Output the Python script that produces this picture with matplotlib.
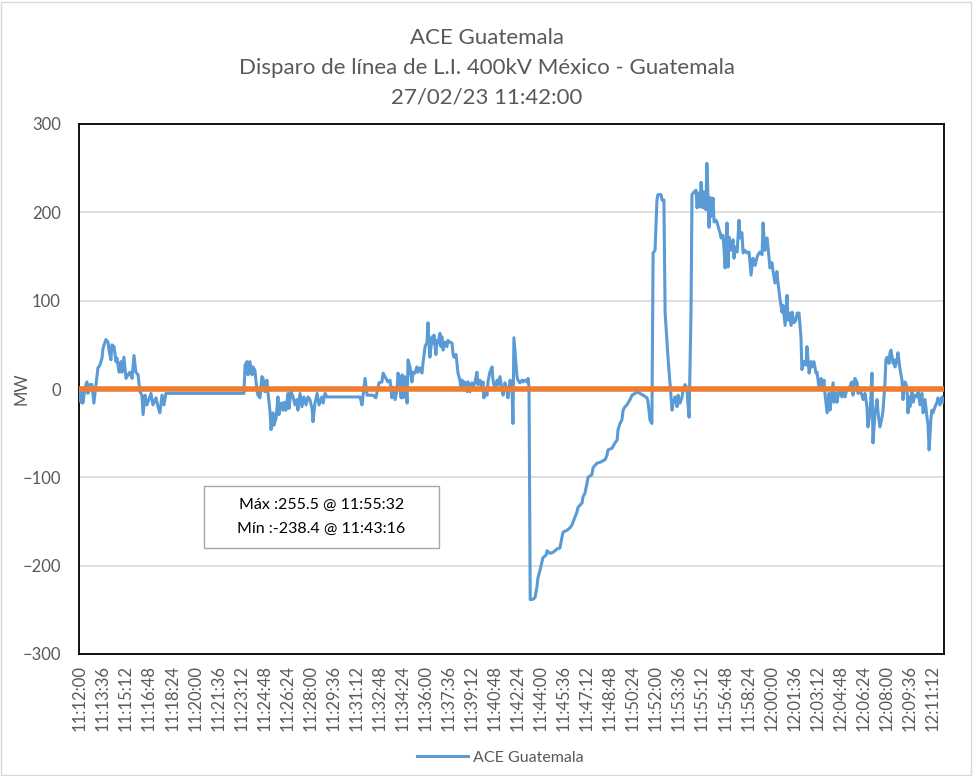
import matplotlib
matplotlib.use("Agg")
import matplotlib.pyplot as plt
from matplotlib.patches import Rectangle
import datetime as dt

# ---------------- data ----------------
title_lines = ["ACE Guatemala",
               "Disparo de línea de L.I. 400kV México - Guatemala",
               "27/02/23 11:42:00"]
series_name = "ACE Guatemala"
# seconds after 11:12:00
t_sec = [0, 4, 8, 12, 21, 29, 33, 42, 50, 58, 67, 75, 83, 92, 96, 108, 117, 121, 129, 133,
         142, 150, 154, 163, 171, 175, 183, 192, 200, 208, 217, 225, 233, 242, 250, 258, 263, 271, 279, 283,
         296, 304, 317, 325, 333, 342, 350, 358, 367, 683, 688, 696, 700, 708, 717, 721, 729, 738, 742, 750,
         758, 763, 771, 779, 783, 792, 796, 804, 808, 817, 825, 829, 838, 846, 850, 858, 867, 871, 879, 888,
         896, 904, 908, 917, 925, 933, 942, 950, 958, 967, 971, 979, 988, 996, 1008, 1013, 1021, 1029, 1167, 1175,
         1188, 1196, 1208, 1221, 1233, 1238, 1246, 1258, 1263, 1271, 1279, 1283, 1292, 1300, 1304, 1313, 1321, 1325, 1333, 1338,
         1342, 1346, 1354, 1363, 1367, 1375, 1383, 1388, 1396, 1404, 1408, 1417, 1425, 1429, 1438, 1446, 1450, 1454, 1458, 1467,
         1471, 1475, 1483, 1488, 1492, 1500, 1504, 1508, 1513, 1521, 1529, 1533, 1542, 1550, 1554, 1558, 1567, 1571, 1575, 1583,
         1588, 1592, 1600, 1604, 1613, 1617, 1625, 1633, 1638, 1646, 1654, 1658, 1667, 1675, 1679, 1683, 1688, 1696, 1700, 1708,
         1717, 1721, 1729, 1738, 1742, 1750, 1758, 1763, 1771, 1779, 1783, 1792, 1800, 1804, 1808, 1813, 1821, 1825, 1833, 1842,
         1846, 1854, 1863, 1867, 1871, 1876, 1888, 1896, 1904, 1908, 1917, 1925, 1929, 1942, 1946, 1958, 1971, 1988, 2000, 2008,
         2013, 2029, 2042, 2050, 2054, 2071, 2075, 2092, 2096, 2104, 2113, 2117, 2133, 2138, 2154, 2167, 2188, 2196, 2200, 2217,
         2229, 2238, 2242, 2250, 2258, 2263, 2271, 2279, 2283, 2292, 2300, 2313, 2321, 2333, 2346, 2363, 2367, 2375, 2383, 2388,
         2396, 2404, 2408, 2421, 2425, 2433, 2438, 2450, 2458, 2467, 2471, 2479, 2488, 2492, 2500, 2508, 2513, 2521, 2529, 2533,
         2538, 2546, 2550, 2558, 2567, 2571, 2579, 2583, 2588, 2596, 2600, 2608, 2612, 2621, 2625, 2629, 2638, 2642, 2650, 2654,
         2663, 2667, 2671, 2679, 2683, 2688, 2696, 2700, 2704, 2713, 2721, 2725, 2729, 2738, 2746, 2750, 2758, 2763, 2771, 2779,
         2788, 2796, 2804, 2813, 2821, 2825, 2833, 2842, 2846, 2854, 2863, 2867, 2875, 2883, 2888, 2896, 2904, 2908, 2917, 2925,
         2929, 2938, 2946, 2950, 2954, 2963, 2967, 2975, 2983, 2988, 2996, 3004, 3008, 3017, 3025, 3029, 3038, 3046, 3050, 3058,
         3067, 3071, 3079, 3088, 3092, 3100, 3104, 3113, 3121, 3125, 3138, 3142, 3150, 3154, 3163, 3175, 3179, 3188, 3196, 3204,
         3213, 3217, 3221, 3229, 3238, 3242, 3250, 3258, 3263, 3271, 3279, 3283, 3292, 3300, 3304, 3313, 3321, 3325, 3333, 3342,
         3346, 3354, 3358, 3363, 3371, 3375, 3379, 3388, 3392, 3396, 3404, 3408, 3417, 3425, 3429, 3438, 3446, 3450, 3454, 3458,
         3467, 3471, 3479, 3488, 3492, 3500, 3508, 3513, 3521, 3529, 3533, 3538, 3546, 3550, 3554, 3563, 3571, 3575, 3583, 3592,
         3596, 3600]
ace_mw = [-3, -15, -1, -16, 1, 8, -5, 5, 5, -16, 5, 24, 27, 35, 46, 56, 53, 44, 33, 50,
          48, 31, 35, 19, 31, 19, 36, 12, 16, 19, 12, 38, 19, 16, -3, -7, -29, -7, -18, -15,
          -5, -18, -10, -20, -27, -7, -18, -5, -5, -5, 27, 31, 16, 31, 16, 25, 21, -3, -7, -10,
          14, 12, -3, 10, -3, -26, -46, -27, -41, -33, -9, -29, -16, -24, -15, -24, -5, -22, -3, -9,
          -18, -12, -24, -5, -20, -9, -18, -9, -12, -22, -37, -16, -5, -18, -9, -16, -5, -9, -9, -18,
          12, -7, -7, -7, -10, -3, 7, 8, 18, 14, 10, 8, 10, -10, 2, -12, -1, 18, 10, -10,
          16, -10, 14, -16, 33, 25, 8, 19, 18, 25, 19, 24, 18, 29, 48, 53, 75, 52, 36, 59,
          52, 61, 39, 55, 52, 63, 48, 59, 44, 53, 48, 55, 53, 52, 41, 36, 39, 29, 18, 10,
          1, 10, -1, 8, -3, 8, -3, 7, 2, 8, 19, 5, 10, -1, 8, -10, -1, -7, 8, 19,
          25, 10, -1, 10, 5, 14, -1, -7, 7, -1, -10, 10, 2, -39, 58, 41, 14, 10, 7, 10,
          8, 10, 8, 12, 2, -238.4, -238, -236, -224, -214, -205, -196, -191, -188, -183, -186, -185, -181, -180, -168,
          -162, -160, -157, -154, -151, -139, -134, -129, -122, -118, -106, -100, -97, -89, -84, -83, -80, -75, -69, -67,
          -61, -58, -46, -39, -35, -24, -20, -18, -16, -12, -7, -5, -3, -5, -7, -10, -15, -35, -39, 154,
          157, 214, 220, 220, 214, 214, 86, 36, 7, -24, -16, -9, -20, -7, -16, -10, -1, 5, 1, -16,
          -32, 89, 220, 223, 225, 205, 222, 206, 234, 205, 223, 203, 255.5, 183, 217, 195, 216, 189, 191, 189,
          180, 177, 171, 174, 161, 137, 188, 138, 172, 157, 169, 148, 161, 155, 191, 171, 177, 154, 157, 154,
          155, 129, 148, 140, 149, 152, 155, 152, 188, 157, 171, 160, 137, 143, 133, 120, 133, 121, 101, 87,
          95, 72, 106, 78, 86, 72, 87, 75, 78, 86, 86, 59, 22, 31, 27, 48, 18, 31, 25, 31,
          18, 19, 2, 12, -1, 10, -5, -27, -5, -24, 7, -15, -5, -15, -1, -9, -3, -9, 1, -1,
          7, 8, -7, 12, 7, -5, -1, -7, -12, -5, -20, -43, -27, 18, -61, -27, -12, -26, -43, -32,
          -24, 7, 33, 36, 29, 41, 44, 29, 33, 25, 33, 41, 22, 10, -12, 8, 2, -27, -9, -20,
          -1, -15, -7, -9, -1, -18, -5, -27, -12, -32, -39, -69, -32, -24, -27, -20, -15, -10, -18, -9,
          -15, -12]
zero_mw = [0, 0]
zero_t = [t_sec[0], t_sec[-1]]
y_ticks = [-300, -200, -100, 0, 100, 200, 300]
x_tick_step = 96
annotation_lines = ["Máx :255.5 @ 11:55:32", "Mín :-238.4 @ 11:43:16"]

# ---------------- style ----------------
FONT = ["Lato", "DejaVu Sans"]
plt.rcParams["font.family"] = FONT
TXT = "#595959"
BLUE = "#5B9BD5"
ORANGE = "#ED7D31"
GRID = "#D9D9D9"

fig = plt.figure(figsize=(9.73, 7.76), dpi=100)
ax = fig.add_axes([79 / 973, 1 - 654 / 776, (944 - 79) / 973, (654 - 124) / 776])

ax.plot(t_sec, ace_mw, color=BLUE, lw=2.2, solid_joinstyle="round", zorder=3, label=series_name)
ax.plot(zero_t, zero_mw, color=ORANGE, lw=4.0, zorder=4)

ax.set_xlim(-4, 3600)
ax.set_ylim(y_ticks[0], y_ticks[-1])
ax.set_yticks(y_ticks)
ax.yaxis.grid(True, color=GRID, lw=1.2)
ax.set_axisbelow(True)

base = dt.datetime(2023, 2, 27, 11, 12, 0)
xt = list(range(0, 3600, x_tick_step))
ax.set_xticks(xt)
ax.set_xticklabels([(base + dt.timedelta(seconds=s)).strftime("%H:%M:%S") for s in xt],
                   rotation=90, fontsize=12, color=TXT)
ax.tick_params(axis="x", length=0, pad=8)
ax.tick_params(axis="y", length=0, pad=13, labelsize=12, labelcolor=TXT)
for sp in ax.spines.values():
    sp.set_color("black")
    sp.set_linewidth(1.3)

fig.text(22 / 973, 1 - 389 / 776, "MW", rotation=90, ha="center", va="center",
         fontsize=12, color=TXT)

for i, line in enumerate(title_lines):
    fig.text(487 / 973, 1 - (38 + 29.5 * i) / 776, line, ha="center", va="center",
             fontsize=16, color=TXT)

# annotation box
bx0, bx1, by0, by1 = 204, 439, 486, 548
fig.patches.append(Rectangle((bx0 / 973, 1 - by1 / 776), (bx1 - bx0) / 973, (by1 - by0) / 776,
                             transform=fig.transFigure, fc="white", ec="#A6A6A6", lw=1.0, zorder=5))
fig.text((bx0 + bx1) / 2 / 973, 1 - (by0 + by1) / 2 / 776, "\n".join(annotation_lines),
         ha="center", va="center", fontsize=11.5, color="black", linespacing=1.85, zorder=6)

leg = fig.legend(loc="center", bbox_to_anchor=(500 / 973, 1 - 758 / 776), frameon=False,
                 fontsize=11.5, handlelength=3.2, handletextpad=0.3)
for t in leg.get_texts():
    t.set_color(TXT)

fig.patches.append(Rectangle((0.001, 0.001), 0.997, 0.997, transform=fig.transFigure,
                             fill=False, ec=GRID, lw=1.0))

fig.savefig("out.png", dpi=100)
